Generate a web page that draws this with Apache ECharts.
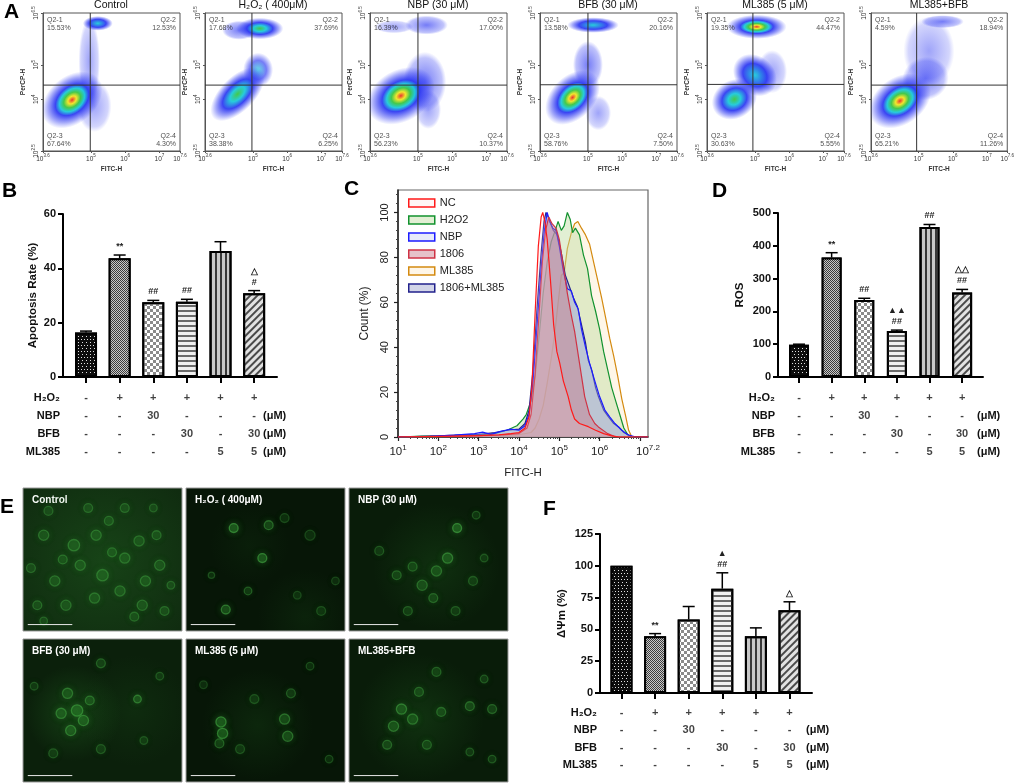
<!DOCTYPE html>
<html>
<head>
<meta charset="utf-8">
<script src="https://cdn.jsdelivr.net/npm/echarts@6/dist/echarts.min.js"></script>
<style>
html,body{margin:0;padding:0;background:#fff}
#main{width:1017px;height:783px}
</style>
</head>
<body>
<div id="main"></div>
<script>
// ---------- A: flow cytometry (all values are log10 of the signal) ----------
var flowTitles = ['Control', 'H₂O₂ ( 400μM)', 'NBP (30 μM)', 'BFB (30 μM)', 'ML385 (5 μM)', 'ML385+BFB'];
var flowQ1 = [15.53, 17.68, 16.39, 13.58, 19.35, 4.59];
var flowQ2 = [12.53, 37.69, 17.00, 20.16, 44.47, 18.94];
var flowQ3 = [67.64, 38.38, 56.23, 58.76, 30.63, 65.21];
var flowQ4 = [4.30, 6.25, 10.37, 7.50, 5.55, 11.26];
var flowGateX = [4.98, 4.97, 5.0, 5.0, 4.94, 4.94];
var flowGateY = [4.41, 4.41, 4.41, 4.42, 4.43, 4.41];
var flowXTicks = [3.6, 5, 6, 7, 7.6];
var flowYTicks = [2.5, 4, 5, 6.5];
// populations: [x, y, spreadX, spreadY, tilt (deg), density 0..1]
var flowPops = [
  [[5.1, 3.8, 0.4, 0.6, 0, 0.1], [4.95, 5.1, 0.25, 1.0, 0, 0.12], [5.2, 6.2, 0.35, 0.17, 0, 0.45], [4.45, 3.98, 0.8, 0.55, 40, 1.0]],
  [[4.6, 6.0, 0.4, 0.22, 0, 0.2], [5.15, 4.85, 0.35, 0.4, 0, 0.35], [4.55, 4.15, 0.8, 0.4, 45, 0.6], [5.2, 6.05, 0.55, 0.25, 0, 0.7]],
  [[4.3, 6.1, 0.45, 0.15, 0, 0.15], [5.3, 3.7, 0.3, 0.45, 0, 0.12], [5.25, 6.15, 0.5, 0.22, 0, 0.25], [5.2, 4.5, 0.5, 0.7, 0, 0.3], [4.5, 4.1, 0.85, 0.6, 30, 1.0]],
  [[5.3, 3.6, 0.3, 0.4, 0, 0.12], [5.0, 5.0, 0.35, 0.55, 0, 0.3], [5.15, 6.15, 0.6, 0.18, 0, 0.5], [4.55, 4.05, 0.75, 0.5, 45, 0.95]],
  [[5.5, 4.8, 0.35, 0.5, 0, 0.12], [4.4, 4.0, 0.55, 0.45, 30, 0.65], [5.0, 4.7, 0.45, 0.55, 50, 0.5], [5.05, 6.1, 0.7, 0.28, 0, 0.9]],
  [[5.3, 5.4, 0.6, 0.8, 0, 0.1], [5.7, 6.25, 0.5, 0.15, 0, 0.3], [5.2, 4.6, 0.55, 0.5, 20, 0.3], [4.45, 3.95, 0.8, 0.55, 35, 1.0]]
];

// ---------- B, D, F: bar charts ----------
var groups = [0, 1, 2, 3, 4, 5];
var apoptosis = [16.4, 43.7, 27.5, 27.7, 46.4, 30.8];
var apoptosisErr = [0.5, 1.2, 0.7, 0.9, 3.4, 1.0];
var apoptosisMarks = ['', '**', '##', '##', '', '△\n#'];
var ros = [98, 364, 235, 140, 457, 258];
var rosErr = [2, 15, 5, 3, 8, 9];
var rosMarks = ['', '**', '##', '▲▲\n##', '##', '△△\n##'];
var mmp = [100, 44.6, 57.8, 82.0, 44.6, 65.0];
var mmpErr = [0, 2.1, 10.2, 12.5, 6.6, 6.7];
var mmpMarks = ['', '**', '', '▲\n##', '', '△'];
var tableRows = ['H₂O₂', 'NBP', 'BFB', 'ML385'];
var tableH2O2 = ['-', '+', '+', '+', '+', '+'];
var tableNBP = ['-', '-', '30', '-', '-', '-'];
var tableBFB = ['-', '-', '-', '30', '-', '30'];
var tableML385 = ['-', '-', '-', '-', '5', '5'];
var tableUnit = ['', '(μM)', '(μM)', '(μM)'];

// ---------- C: FITC-H histograms, [log10(FITC-H), count %] ----------
var histNames = ['NC', 'H2O2', 'NBP', '1806', 'ML385', '1806+ML385'];
var histNC = [[1,0],[2,0.3],[3,0.6],[3.5,1],[3.8,1.5],[4.0,2],[4.15,4],[4.25,9],[4.32,22],[4.4,55],[4.48,85],[4.55,98],[4.59,100],[4.64,96],[4.7,88],[4.78,70],[4.86,50],[4.94,38],[5.01,33],[5.1,25],[5.22,18],[5.3,12],[5.38,8],[5.5,6],[5.72,4.6],[5.9,3],[6.1,1.5],[6.3,0.5],[6.5,0],[7.2,0]];
var histH2O2 = [[1,0],[1.6,0.4],[2.4,0.5],[3.0,0.8],[3.4,1.5],[3.7,3],[3.95,5],[4.1,8],[4.18,10],[4.3,16],[4.4,27],[4.5,45],[4.6,64],[4.7,78],[4.8,87],[4.9,92],[4.97,96],[5.05,92],[5.12,94],[5.2,100],[5.27,97],[5.33,91],[5.4,93],[5.5,90],[5.6,81],[5.7,75],[5.8,63],[5.9,56],[6.0,48],[6.1,38],[6.2,30],[6.3,22],[6.4,16],[6.5,10],[6.6,4],[6.7,1],[6.8,0],[7.2,0]];
var histNBP = [[1,0],[1.8,0.3],[2.4,0.8],[2.9,1.5],[3.1,2.2],[3.3,1.2],[3.55,2.5],[3.8,3.5],[4.0,3],[4.15,5],[4.25,10],[4.35,25],[4.45,50],[4.55,75],[4.63,92],[4.7,100],[4.76,96],[4.84,93],[4.92,92],[5.0,85],[5.1,74],[5.2,66],[5.3,65],[5.38,60],[5.47,57],[5.55,48],[5.65,40],[5.75,33],[5.88,25],[6.0,18],[6.13,12],[6.25,9],[6.38,6],[6.55,3],[6.7,1],[6.9,0],[7.2,0]];
var hist1806 = [[1,0],[2.5,0.3],[3.5,0.8],[4.0,1.5],[4.2,4],[4.3,10],[4.4,28],[4.5,55],[4.58,78],[4.66,92],[4.74,98],[4.82,95],[4.92,93],[5.0,88],[5.1,76],[5.2,64],[5.3,54],[5.38,47],[5.5,33],[5.63,18],[5.75,10],[5.88,6],[5.97,4.5],[6.2,1.5],[6.4,0],[7.2,0]];
var histML385 = [[1,0],[2.5,0.3],[3.5,0.6],[4.0,1],[4.3,2],[4.4,4],[4.5,8],[4.6,14],[4.7,24],[4.8,35],[4.88,45],[4.96,58],[5.05,72],[5.12,73],[5.2,84],[5.3,91],[5.38,95],[5.46,96],[5.55,93],[5.65,90],[5.75,86],[5.85,78],[5.95,70],[6.05,62],[6.15,53],[6.25,44],[6.35,36],[6.45,27],[6.55,17],[6.65,9],[6.72,3],[6.8,0],[7.2,0]];
var hist1806ML385 = [[1,0],[2.0,0.5],[2.6,1],[3.0,1.2],[3.4,2],[3.7,3],[4.0,3.5],[4.15,6],[4.25,12],[4.35,30],[4.45,58],[4.55,82],[4.62,96],[4.67,100],[4.75,97],[4.85,92],[4.95,90],[5.05,82],[5.15,72],[5.25,67],[5.35,62],[5.45,58],[5.55,50],[5.65,42],[5.72,34],[5.8,30],[5.9,22],[5.97,18],[6.1,12],[6.22,9],[6.35,6],[6.47,4.5],[6.6,2],[6.8,0],[7.2,0]];
var cXLabels = [1, 2, 3, 4, 5, 6, 7.2];
var cXTicks = [1, 2, 3, 4, 5, 6, 7];
var cYTicks = [0, 20, 40, 60, 80, 100];

// ---------- E: fluorescence fields, [x, y, size, brightness] in image fractions ----------
var eTitles = ['Control', 'H₂O₂ ( 400μM)', 'NBP (30 μM)', 'BFB (30 μM)', 'ML385 (5 μM)', 'ML385+BFB'];
var eCells = [
  [[0.13,0.33,0.08,0.5],[0.05,0.56,0.07,0.4],[0.2,0.65,0.08,0.5],[0.32,0.4,0.09,0.55],[0.46,0.33,0.08,0.5],[0.54,0.23,0.07,0.45],[0.36,0.54,0.08,0.5],[0.5,0.61,0.09,0.55],[0.64,0.49,0.08,0.5],[0.73,0.37,0.08,0.45],[0.84,0.33,0.07,0.45],[0.86,0.54,0.08,0.5],[0.77,0.65,0.08,0.55],[0.61,0.72,0.08,0.5],[0.45,0.77,0.08,0.5],[0.27,0.82,0.08,0.5],[0.09,0.82,0.07,0.45],[0.13,0.93,0.06,0.4],[0.75,0.82,0.08,0.5],[0.89,0.86,0.07,0.45],[0.93,0.68,0.06,0.4],[0.41,0.14,0.07,0.4],[0.16,0.16,0.07,0.4],[0.64,0.14,0.07,0.4],[0.82,0.14,0.06,0.35],[0.25,0.5,0.07,0.45],[0.56,0.45,0.07,0.45],[0.7,0.9,0.07,0.45]],
  [[0.3,0.28,0.07,0.9],[0.52,0.26,0.07,0.6],[0.48,0.49,0.07,0.85],[0.25,0.85,0.07,0.75],[0.39,0.72,0.06,0.45],[0.16,0.61,0.05,0.3],[0.78,0.33,0.08,0.2],[0.62,0.21,0.07,0.25],[0.85,0.86,0.07,0.25],[0.94,0.65,0.06,0.2],[0.7,0.75,0.06,0.2]],
  [[0.68,0.28,0.07,0.9],[0.62,0.49,0.08,0.7],[0.46,0.68,0.08,0.55],[0.53,0.77,0.07,0.5],[0.3,0.61,0.07,0.45],[0.19,0.44,0.07,0.35],[0.78,0.65,0.07,0.35],[0.85,0.49,0.06,0.3],[0.37,0.86,0.07,0.4],[0.67,0.86,0.07,0.35],[0.8,0.19,0.06,0.3],[0.55,0.58,0.08,0.55],[0.4,0.55,0.07,0.45]],
  [[0.28,0.38,0.08,0.6],[0.34,0.5,0.09,0.75],[0.24,0.52,0.08,0.65],[0.38,0.57,0.08,0.7],[0.3,0.64,0.08,0.7],[0.42,0.43,0.07,0.55],[0.49,0.17,0.07,0.45],[0.72,0.42,0.06,0.7],[0.19,0.8,0.07,0.35],[0.49,0.77,0.07,0.35],[0.76,0.71,0.06,0.3],[0.86,0.26,0.06,0.3],[0.07,0.33,0.06,0.3]],
  [[0.22,0.58,0.08,0.85],[0.23,0.66,0.08,0.8],[0.21,0.73,0.07,0.5],[0.62,0.56,0.08,0.6],[0.64,0.68,0.08,0.65],[0.66,0.38,0.07,0.4],[0.43,0.42,0.07,0.3],[0.34,0.77,0.07,0.3],[0.78,0.19,0.06,0.25],[0.9,0.84,0.06,0.25],[0.11,0.32,0.06,0.2]],
  [[0.33,0.49,0.08,0.7],[0.28,0.61,0.08,0.65],[0.4,0.56,0.08,0.6],[0.24,0.74,0.07,0.5],[0.44,0.37,0.07,0.5],[0.55,0.23,0.07,0.45],[0.58,0.51,0.07,0.5],[0.76,0.47,0.07,0.55],[0.9,0.49,0.07,0.5],[0.85,0.28,0.06,0.4],[0.49,0.74,0.07,0.45],[0.76,0.79,0.06,0.35],[0.9,0.84,0.06,0.35]]
];
var eHaze = [
  [[0.5,0.5,1.3,0.7]],
  [[0.75,0.9,0.6,0.3],[0.4,0.4,0.5,0.2]],
  [[0.55,0.55,0.8,0.5]],
  [[0.32,0.52,0.6,0.8],[0.7,0.5,0.7,0.3]],
  [[0.45,0.6,0.7,0.4]],
  [[0.45,0.55,0.8,0.55]]
];
var eScaleBar = [[0.03, 0.955], [0.31, 0.955]];

// ------------------------------------------------------------------
var FONT = '"Liberation Sans", Arial, sans-serif';
var grids = [], xAxes = [], yAxes = [], series = [], graphics = [];

function addGrid(g) { grids.push(g); return grids.length - 1; }
function addX(a) { xAxes.push(a); return xAxes.length - 1; }
function addY(a) { yAxes.push(a); return yAxes.length - 1; }

function powText(v) { return '{b|10}{s|' + (Math.round(v * 10) / 10) + '}'; }
function powRich(base, sup, color) {
  return {
    b: {fontSize: base, fontFamily: FONT, color: color, verticalAlign: 'bottom', lineHeight: base + 2},
    s: {fontSize: sup, fontFamily: FONT, color: color, verticalAlign: 'bottom', lineHeight: sup + 1, padding: [0, 0, Math.round(base * 0.55), 0]}
  };
}

function clipTo(cs) {
  return {type: 'rect', shape: {x: cs.x, y: cs.y, width: cs.width, height: cs.height}};
}

// density colour ramp of the dot plots, dense core -> sparse edge
var DENSITY_RAMP = ['#e8251d', '#f1e41c', '#33c43c', '#14c8d8', '#2a35f2'];
function densityFill(d) {
  var first = Math.max(0, Math.min(4, Math.round((1 - d) * 5)));
  var cols = DENSITY_RAMP.slice(first);
  var stops = cols.map(function (c, i) {
    return {offset: cols.length > 1 ? 0.55 * i / (cols.length - 1) : 0, color: c};
  });
  stops.push({offset: 0.8, color: 'rgba(42,53,242,0.45)'});
  stops.push({offset: 1, color: 'rgba(60,70,250,0)'});
  return new echarts.graphic.RadialGradient(0.5, 0.5, 0.5, stops);
}

function renderBlob(params, api) {
  var x = api.value(0), y = api.value(1), sx = api.value(2) * 1.25, sy = api.value(3) * 1.25;
  var tilt = api.value(4), dens = api.value(5);
  var c = api.coord([x, y]);
  var rx = Math.abs(api.coord([x + sx, y])[0] - c[0]);
  var ry = Math.abs(api.coord([x, y + sy])[1] - c[1]);
  return {
    type: 'group',
    clipPath: clipTo(params.coordSys),
    children: [{
      type: 'circle',
      x: c[0], y: c[1],
      rotation: tilt * Math.PI / 180,
      scaleY: ry / rx,
      shape: {cx: 0, cy: 0, r: rx},
      style: {fill: densityFill(dens), opacity: dens < 0.2 ? 0.45 : (dens < 0.4 ? 0.65 : 0.92)}
    }]
  };
}

// ---------- panel A ----------
var FLOW_LEFT = [43, 205, 370, 540, 707, 871];
flowTitles.forEach(function (title, k) {
  var gi = addGrid({left: FLOW_LEFT[k], top: 13, width: 137, height: 138, show: true, borderColor: '#555', borderWidth: 1});
  var xi = addX({
    gridIndex: gi, type: 'value', min: 3.6, max: 7.6,
    name: 'FITC-H', nameLocation: 'middle', nameGap: 15,
    nameTextStyle: {fontSize: 6.5, fontWeight: 'bold', color: '#333', fontFamily: FONT},
    axisLine: {onZero: false, lineStyle: {color: '#555', width: 1}},
    axisTick: {customValues: flowXTicks, length: 2, lineStyle: {color: '#555'}},
    axisLabel: {customValues: flowXTicks, formatter: powText, rich: powRich(6.5, 4.5, '#333'), margin: 3},
    splitLine: {show: false}
  });
  var yi = addY({
    gridIndex: gi, type: 'value', min: 2.5, max: 6.5,
    name: 'PerCP-H', nameLocation: 'middle', nameGap: 16,
    nameTextStyle: {fontSize: 6.5, fontWeight: 'bold', color: '#333', fontFamily: FONT},
    axisLine: {onZero: false, lineStyle: {color: '#555', width: 1}},
    axisTick: {customValues: flowYTicks, length: 2, lineStyle: {color: '#555'}},
    axisLabel: {customValues: flowYTicks, formatter: powText, rich: powRich(6.5, 4.5, '#333'), rotate: 90, margin: 3},
    splitLine: {show: false}
  });
  var pops = flowPops[k].slice().sort(function (a, b) { return a[5] - b[5]; });
  series.push({type: 'custom', xAxisIndex: xi, yAxisIndex: yi, data: pops, renderItem: renderBlob, silent: true, z: 2});
  series.push({type: 'line', xAxisIndex: xi, yAxisIndex: yi, symbol: 'none', silent: true, z: 3,
    data: [[flowGateX[k], 2.5], [flowGateX[k], 6.5]], lineStyle: {color: '#333', width: 1}});
  series.push({type: 'line', xAxisIndex: xi, yAxisIndex: yi, symbol: 'none', silent: true, z: 3,
    data: [[3.6, flowGateY[k]], [7.6, flowGateY[k]]], lineStyle: {color: '#333', width: 1}});
  var qStyle = {show: true, fontSize: 7, lineHeight: 8, color: '#222', fontFamily: FONT};
  series.push({type: 'scatter', xAxisIndex: xi, yAxisIndex: yi, symbolSize: 0, silent: true, z: 4, clip: false,
    data: [
      {value: [3.6, 6.5], label: Object.assign({}, qStyle, {position: [4, 3], align: 'left', verticalAlign: 'top', formatter: 'Q2-1\n' + flowQ1[k].toFixed(2) + '%'})},
      {value: [7.6, 6.5], label: Object.assign({}, qStyle, {position: [-4, 3], align: 'right', verticalAlign: 'top', formatter: 'Q2-2\n' + flowQ2[k].toFixed(2) + '%'})},
      {value: [3.6, 2.5], label: Object.assign({}, qStyle, {position: [4, -3], align: 'left', verticalAlign: 'bottom', formatter: 'Q2-3\n' + flowQ3[k].toFixed(2) + '%'})},
      {value: [7.6, 2.5], label: Object.assign({}, qStyle, {position: [-4, -3], align: 'right', verticalAlign: 'bottom', formatter: 'Q2-4\n' + flowQ4[k].toFixed(2) + '%'})}
    ]});
  graphics.push({type: 'text', x: FLOW_LEFT[k] + 68, y: 0,
    style: {text: title, font: '10.5px ' + FONT, fill: '#111', textAlign: 'center', textVerticalAlign: 'top'}});
});

// ---------- bar panels B, D, F ----------
var BAR_FILLS = [
  {color: '#0d0d0d', decal: {symbol: 'rect', color: '#e0e0e0', dashArrayX: [[1, 2], [0, 1.5, 1, 0.5]], dashArrayY: [1, 1.5], symbolSize: 1}},
  {color: '#3c3c3c', decal: {symbol: 'rect', color: '#c8c8c8', dashArrayX: [[1, 1], [0, 1, 1, 0]], dashArrayY: [1, 0], symbolSize: 1}},
  {color: '#ffffff', decal: {symbol: 'rect', color: '#8a8a8a', dashArrayX: [[3, 3], [0, 3, 3, 0]], dashArrayY: [3, 0], symbolSize: 1}},
  {color: '#f0f0f0', decal: {symbol: 'rect', color: '#6a6a6a', dashArrayX: [1, 0], dashArrayY: [1.2, 2.3], symbolSize: 1}},
  {color: '#c8c8c8', decal: {symbol: 'rect', color: '#383838', dashArrayX: [1.6, 2.2], dashArrayY: [1, 0], symbolSize: 1}},
  {color: '#e2e2e2', decal: {symbol: 'rect', color: '#4a4a4a', dashArrayX: [1, 0], dashArrayY: [1.3, 2.2], rotation: -Math.PI / 4, symbolSize: 1}}
];
var TABLE = [tableH2O2, tableNBP, tableBFB, tableML385];
var boldText = {fontWeight: 'bold', fontSize: 11, color: '#111', fontFamily: FONT};

function drawBarPanel(p, values, errs, marks) {
  var gi = addGrid({left: p.left, top: p.top, width: p.width, height: p.height});
  var xi = addX({
    gridIndex: gi, type: 'value', min: p.xMin, max: p.xMax,
    axisLine: {show: true, onZero: false, lineStyle: {color: '#000', width: 2}},
    axisTick: {show: true, customValues: groups, length: 6, lineStyle: {color: '#000', width: 2}},
    axisLabel: {show: false}, splitLine: {show: false}
  });
  var yi = addY({
    gridIndex: gi, type: 'value', min: 0, max: p.yMax, interval: p.yStep,
    name: p.yName, nameLocation: 'middle', nameGap: p.nameGap,
    nameTextStyle: Object.assign({}, boldText, {fontSize: 11.5}),
    axisLine: {show: true, onZero: false, lineStyle: {color: '#000', width: 2}},
    axisTick: {show: true, length: 5, lineStyle: {color: '#000', width: 2}},
    axisLabel: Object.assign({}, boldText, {margin: 7}),
    splitLine: {show: false}
  });
  series.push({
    type: 'bar', xAxisIndex: xi, yAxisIndex: yi, barWidth: p.barWidth, silent: true, z: 2,
    data: values.map(function (v, i) {
      return {value: [i, v], itemStyle: {color: BAR_FILLS[i].color, decal: BAR_FILLS[i].decal, borderColor: '#000', borderWidth: 2}};
    })
  });
  series.push({
    type: 'custom', xAxisIndex: xi, yAxisIndex: yi, silent: true, z: 3,
    data: values.map(function (v, i) { return [i, v, errs[i]]; }),
    renderItem: function (params, api) {
      var i = api.value(0), v = api.value(1), e = api.value(2);
      var base = api.coord([i, v]), top = api.coord([i, v + e]);
      var children = [];
      if (e > 0) {
        children.push({type: 'line', shape: {x1: top[0], y1: base[1], x2: top[0], y2: top[1]}, style: {stroke: '#000', lineWidth: 1.5}});
        children.push({type: 'line', shape: {x1: top[0] - 6, y1: top[1], x2: top[0] + 6, y2: top[1]}, style: {stroke: '#000', lineWidth: 1.5}});
      }
      var mark = marks[params.dataIndex];
      if (mark) {
        children.push({type: 'text', x: top[0], y: top[1] - 3,
          style: {text: mark, textAlign: 'center', textVerticalAlign: 'bottom', font: 'bold 9px ' + FONT, fill: '#222', lineHeight: 11}});
      }
      return {type: 'group', children: children};
    }
  });
  // treatment table under the bars
  var tg = addGrid({left: p.left, width: p.width, top: p.tableTop, height: p.tableHeight});
  var tx = addX({gridIndex: tg, type: 'value', min: p.xMin, max: p.xMax, show: false});
  var ty = addY({gridIndex: tg, type: 'category', data: tableRows, inverse: true,
    axisLine: {show: false}, axisTick: {show: false}, axisLabel: Object.assign({}, boldText, {margin: 3})});
  addY({gridIndex: tg, type: 'category', data: tableRows, inverse: true, position: 'right',
    axisLine: {show: false}, axisTick: {show: false},
    axisLabel: Object.assign({}, boldText, {margin: p.unitMargin, formatter: function (v, idx) { return tableUnit[idx]; }})});
  var cells = [];
  TABLE.forEach(function (row, r) { row.forEach(function (t, i) { cells.push([i, r]); }); });
  series.push({
    type: 'scatter', xAxisIndex: tx, yAxisIndex: ty, symbolSize: 0, silent: true, data: cells,
    label: Object.assign({}, boldText, {show: true, position: 'inside',
      formatter: function (pp) { return TABLE[pp.value[1]][pp.value[0]]; }})
  });
}

drawBarPanel({left: 63, top: 214, width: 214, height: 163, xMin: -0.685, xMax: 5.68, yMax: 60, yStep: 20,
  yName: 'Apoptosis Rate (%)', nameGap: 24, barWidth: 22, tableTop: 389, tableHeight: 72, unitMargin: -14},
  apoptosis, apoptosisErr, apoptosisMarks);
drawBarPanel({left: 778, top: 213, width: 205, height: 164, xMin: -0.644, xMax: 5.64, yMax: 500, yStep: 100,
  yName: 'ROS', nameGap: 32, barWidth: 20, tableTop: 389, tableHeight: 72, unitMargin: -6},
  ros, rosErr, rosMarks);
drawBarPanel({left: 600, top: 534, width: 212, height: 159, xMin: -0.64, xMax: 5.67, yMax: 125, yStep: 25,
  yName: 'ΔΨm (%)', nameGap: 32, barWidth: 22, tableTop: 704, tableHeight: 70, unitMargin: -6},
  mmp, mmpErr, mmpMarks);

// ---------- panel C ----------
var cMinor = [];
for (var e = 1; e < 7.2; e++) {
  for (var m = 2; m < 10; m++) {
    var mv = e + Math.log10(m);
    if (mv < 7.2) cMinor.push(mv);
  }
}
var cYMinor = [];
for (var yv = 4; yv < 110; yv += 4) { if (yv % 20 !== 0) cYMinor.push(yv); }

var cg = addGrid({left: 398, top: 190, width: 250, height: 247, show: true, borderColor: '#666', borderWidth: 1.2});
var cx = addX({
  gridIndex: cg, type: 'value', min: 1, max: 7.2, position: 'bottom',
  name: 'FITC-H', nameLocation: 'middle', nameGap: 30,
  nameTextStyle: {fontSize: 11.5, color: '#222', fontFamily: FONT},
  axisLine: {onZero: false, lineStyle: {color: '#222', width: 1.5}},
  axisTick: {customValues: cXTicks, length: 4, lineStyle: {color: '#222', width: 1.2}},
  axisLabel: {customValues: cXLabels, formatter: powText, rich: powRich(11.5, 8, '#222'), margin: 7},
  splitLine: {show: false}
});
addX({gridIndex: cg, type: 'value', min: 1, max: 7.2, position: 'bottom', axisLine: {show: false, onZero: false},
  axisTick: {customValues: cMinor, length: 2, lineStyle: {color: '#444'}}, axisLabel: {show: false}, splitLine: {show: false}});
var cy = addY({
  gridIndex: cg, type: 'value', min: 0, max: 110, position: 'left',
  name: 'Count (%)', nameLocation: 'middle', nameGap: 27,
  nameTextStyle: {fontSize: 12, color: '#222', fontFamily: FONT},
  axisLine: {onZero: false, lineStyle: {color: '#222', width: 1.5}},
  axisTick: {customValues: cYTicks, length: 4, lineStyle: {color: '#222', width: 1.2}},
  axisLabel: {customValues: cYTicks, fontSize: 11, color: '#222', fontFamily: FONT, rotate: 90, margin: 8},
  splitLine: {show: false}
});
addY({gridIndex: cg, type: 'value', min: 0, max: 110, position: 'left', axisLine: {show: false, onZero: false},
  axisTick: {customValues: cYMinor, length: 2, lineStyle: {color: '#444'}}, axisLabel: {show: false}, splitLine: {show: false}});

var HIST_LINE = {'NC': '#ff1a1a', 'H2O2': '#12922e', 'NBP': '#1c1cff', '1806': '#cf3345', 'ML385': '#d48a10', '1806+ML385': '#22228c'};
var HIST_FILL = {'NC': 'rgba(255,205,205,0.18)', 'H2O2': 'rgba(190,220,160,0.45)', 'NBP': 'rgba(185,195,240,0.35)',
  '1806': 'rgba(200,120,135,0.45)', 'ML385': 'rgba(252,236,205,0.45)', '1806+ML385': 'rgba(125,135,190,0.35)'};
var histData = {'NC': histNC, 'H2O2': histH2O2, 'NBP': histNBP, '1806': hist1806, 'ML385': histML385, '1806+ML385': hist1806ML385};
['ML385', 'H2O2', '1806+ML385', 'NBP', '1806', 'NC'].forEach(function (name, k) {
  series.push({
    name: name, type: 'line', xAxisIndex: cx, yAxisIndex: cy, symbol: 'none', silent: true, z: 2 + k,
    data: histData[name],
    itemStyle: {color: HIST_LINE[name]},
    lineStyle: {color: HIST_LINE[name], width: 1.2},
    areaStyle: {color: HIST_FILL[name], opacity: 1}
  });
});

// ---------- panel E ----------
function renderHaze(params, api) {
  var cs = params.coordSys;
  var c = api.coord([api.value(0), api.value(1)]);
  var r = api.value(2) * cs.width / 2, b = api.value(3);
  return {type: 'group', clipPath: clipTo(cs), children: [{
    type: 'circle', shape: {cx: c[0], cy: c[1], r: r},
    style: {fill: new echarts.graphic.RadialGradient(0.5, 0.5, 0.5, [
      {offset: 0, color: 'rgba(45,140,45,' + (0.35 * b) + ')'},
      {offset: 1, color: 'rgba(45,140,45,0)'}])}
  }]};
}
function renderCell(params, api) {
  var cs = params.coordSys;
  var c = api.coord([api.value(0), api.value(1)]);
  var r = api.value(2) * cs.width / 2, b = api.value(3);
  return {type: 'group', clipPath: clipTo(cs), children: [{
    type: 'circle', shape: {cx: c[0], cy: c[1], r: r * 0.8},
    style: {fill: 'rgba(50,150,50,' + (0.08 + 0.28 * b) + ')', stroke: 'rgba(80,195,80,' + (0.15 + 0.4 * b) + ')',
      lineWidth: 1.3, shadowBlur: 7, shadowColor: 'rgba(60,180,60,' + (0.35 + 0.5 * b) + ')'}
  }]};
}
var E_LEFT = [23, 186, 349], E_TOP = [488, 639], E_BG = ['#102c10', '#071607', '#091c09', '#0b200b', '#071607', '#091c09'];
eTitles.forEach(function (title, k) {
  var gx = E_LEFT[k % 3], gy = E_TOP[Math.floor(k / 3)];
  var gi = addGrid({left: gx, top: gy, width: 159, height: 143, show: true, backgroundColor: E_BG[k], borderColor: '#9a9a9a', borderWidth: 1});
  var xi = addX({gridIndex: gi, type: 'value', min: 0, max: 1, show: false});
  var yi = addY({gridIndex: gi, type: 'value', min: 0, max: 1, inverse: true, show: false});
  series.push({type: 'custom', xAxisIndex: xi, yAxisIndex: yi, silent: true, data: eHaze[k], renderItem: renderHaze, z: 1});
  series.push({type: 'custom', xAxisIndex: xi, yAxisIndex: yi, silent: true, data: eCells[k], renderItem: renderCell, z: 2});
  series.push({type: 'line', xAxisIndex: xi, yAxisIndex: yi, silent: true, symbol: 'none', data: eScaleBar, z: 3,
    lineStyle: {color: '#e8e8e8', width: 1}});
  graphics.push({type: 'text', x: gx + 9, y: gy + 7,
    style: {text: title, font: 'bold 10px ' + FONT, fill: '#ffffff', textAlign: 'left', textVerticalAlign: 'top'}});
});

// ---------- panel letters ----------
[['A', 4, 2], ['B', 2, 181], ['C', 344, 179], ['D', 712, 181], ['E', 0, 497], ['F', 543, 499]].forEach(function (l) {
  graphics.push({type: 'text', x: l[1], y: l[2], style: {text: l[0], font: 'bold 21px ' + FONT, fill: '#000', textAlign: 'left', textVerticalAlign: 'top'}});
});

var chart = echarts.init(document.getElementById('main'));
chart.setOption({
  animation: false,
  backgroundColor: '#ffffff',
  textStyle: {fontFamily: FONT},
  legend: {
    left: 403, top: 191, orient: 'vertical', itemWidth: 26, itemHeight: 8, itemGap: 3,
    textStyle: {fontSize: 11, color: '#222', fontFamily: FONT, lineHeight: 14},
    data: histNames.map(function (n) {
      return {name: n, icon: 'rect', itemStyle: {color: HIST_FILL[n], borderColor: HIST_LINE[n], borderWidth: 1.5}};
    })
  },
  grid: grids, xAxis: xAxes, yAxis: yAxes, series: series, graphic: graphics
});
</script>
</body>
</html>
